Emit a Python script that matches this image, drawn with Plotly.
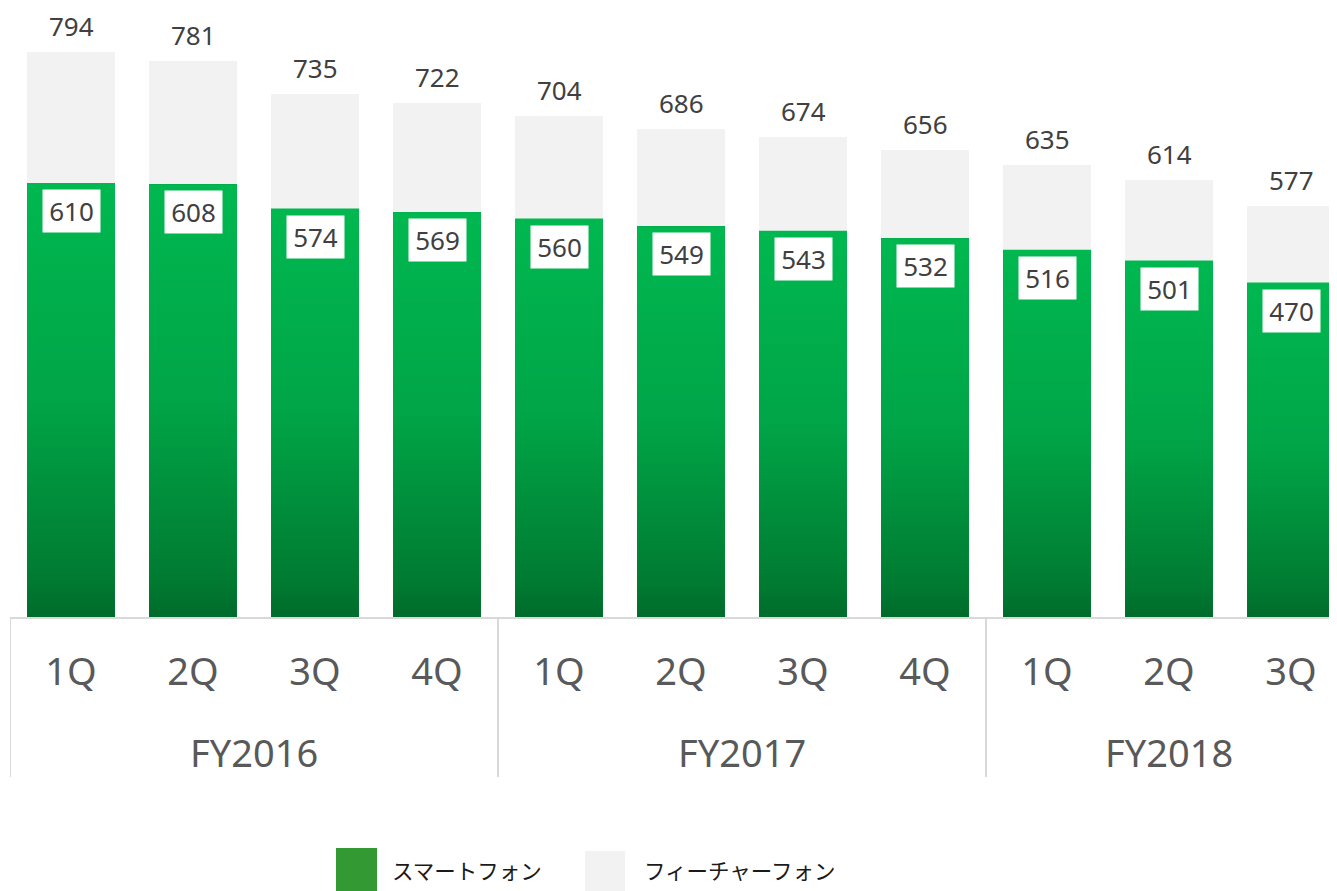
import plotly.graph_objects as go

years = ["FY2016"] * 4 + ["FY2017"] * 4 + ["FY2018"] * 3
quarters = ["1Q", "2Q", "3Q", "4Q", "1Q", "2Q", "3Q", "4Q", "1Q", "2Q", "3Q"]
smartphone = [610, 608, 574, 569, 560, 549, 543, 532, 516, 501, 470]
total = [794, 781, 735, 722, 704, 686, 674, 656, 635, 614, 577]
feature = [t - s for t, s in zip(total, smartphone)]
idx = list(range(len(quarters)))

OFF = 8  # default page body margin
W, H = 1337 - OFF, 891 - OFF
ML, MR, MT = 10 - OFF, 0, 0
BASE = 617 - OFF
MB = H - BASE
PW, PH = W - ML - MR, H - MT - MB
BAR_W = 0.72
XMAX = 10.377
YMAX = PH / 0.7115

FONT = "Noto Sans, Open Sans, sans-serif"
JFONT = "Noto Sans CJK JP, Noto Sans, sans-serif"
AXIS_GRAY = "#D9D9D9"

fig = go.Figure()
fig.add_trace(go.Bar(x=idx, y=smartphone, width=BAR_W,
                     marker=dict(color="#00A547", line=dict(width=0)),
                     name="スマートフォン", hoverinfo="skip"))
fig.add_trace(go.Bar(x=idx, y=feature, width=BAR_W,
                     marker=dict(color="#F2F2F2", line=dict(width=0)),
                     name="フィーチャーフォン"))

# gradient overlay on smartphone bars (per bar)
for i, v in zip(idx, smartphone):
    x0, x1 = i - BAR_W / 2, i + BAR_W / 2
    fig.add_trace(go.Scatter(
        x=[x0, x1, x1, x0, x0], y=[0, 0, v, v, 0],
        mode="lines", line=dict(width=0), fill="toself",
        fillgradient=dict(type="vertical",
                          colorscale=[[0, "#006B2B"], [0.08, "#007A31"], [0.5, "#00A547"], [1, "#00B850"]]),
        hoverinfo="skip"))

annotations = []
for i, s, t in zip(idx, smartphone, total):
    annotations.append(dict(x=i, y=t, xref="x", yref="y", text=str(t), showarrow=False,
                            yanchor="middle", yshift=26, height=28, borderpad=0,
                            font=dict(family=FONT, size=26, color="#404040")))
    annotations.append(dict(x=i, y=s, xref="x", yref="y", text=str(s), showarrow=False,
                            yanchor="top", yshift=-6, bgcolor="#FFFFFF", width=57, height=42,
                            borderpad=0, font=dict(family=FONT, size=26, color="#404040")))


def px_x(px):
    return (px - OFF - ML) / PW


def px_y(py):
    return (MT + PH - (py - OFF)) / PH


# year group labels and dividers
groups = []
for i, y in zip(idx, years):
    if not groups or groups[-1][0] != y:
        groups.append([y, i, i])
    else:
        groups[-1][2] = i

shapes = []
for name, a, b in groups:
    annotations.append(dict(x=(a + b) / 2, y=px_y(752), xref="x", yref="paper", text=name,
                            showarrow=False, yanchor="middle",
                            font=dict(family=FONT, size=38, color="#595959")))
    for edge in (a - 0.5, b + 0.5):
        shapes.append(dict(type="line", xref="x", yref="paper", x0=edge, x1=edge,
                           y0=0, y1=px_y(777), line=dict(color=AXIS_GRAY, width=2)))

# legend
shapes += [
    dict(type="rect", xref="paper", yref="paper", x0=px_x(336), x1=px_x(377), y0=px_y(891), y1=px_y(848),
         fillcolor="#339933", line=dict(width=0)),
    dict(type="rect", xref="paper", yref="paper", x0=px_x(585), x1=px_x(625), y0=px_y(891), y1=px_y(851),
         fillcolor="#F2F2F2", line=dict(width=0)),
]
annotations.append(dict(x=px_x(390), y=px_y(869), xref="paper", yref="paper", text="スマートフォン",
                        showarrow=False, xanchor="left", yanchor="middle",
                        font=dict(family=JFONT, size=21.5, color="#1A1A1A")))
annotations.append(dict(x=px_x(642), y=px_y(869), xref="paper", yref="paper", text="フィーチャーフォン",
                        showarrow=False, xanchor="left", yanchor="middle",
                        font=dict(family=JFONT, size=21.5, color="#1A1A1A")))

fig.update_layout(
    width=W, height=H, margin=dict(l=ML, r=MR, t=MT, b=MB, autoexpand=False),
    barmode="stack",
    plot_bgcolor="white", paper_bgcolor="white",
    showlegend=False,
    xaxis=dict(range=[-0.5, XMAX], showline=True, linecolor=AXIS_GRAY, linewidth=2,
               tickvals=idx, ticktext=quarters, ticks="", ticklabelstandoff=20,
               tickfont=dict(family=FONT, size=38, color="#595959"), showgrid=False,
               zeroline=False, automargin=False),
    yaxis=dict(range=[0, YMAX], visible=False, showgrid=False, automargin=False),
    annotations=annotations, shapes=shapes,
)

fig.write_html("out.html")
